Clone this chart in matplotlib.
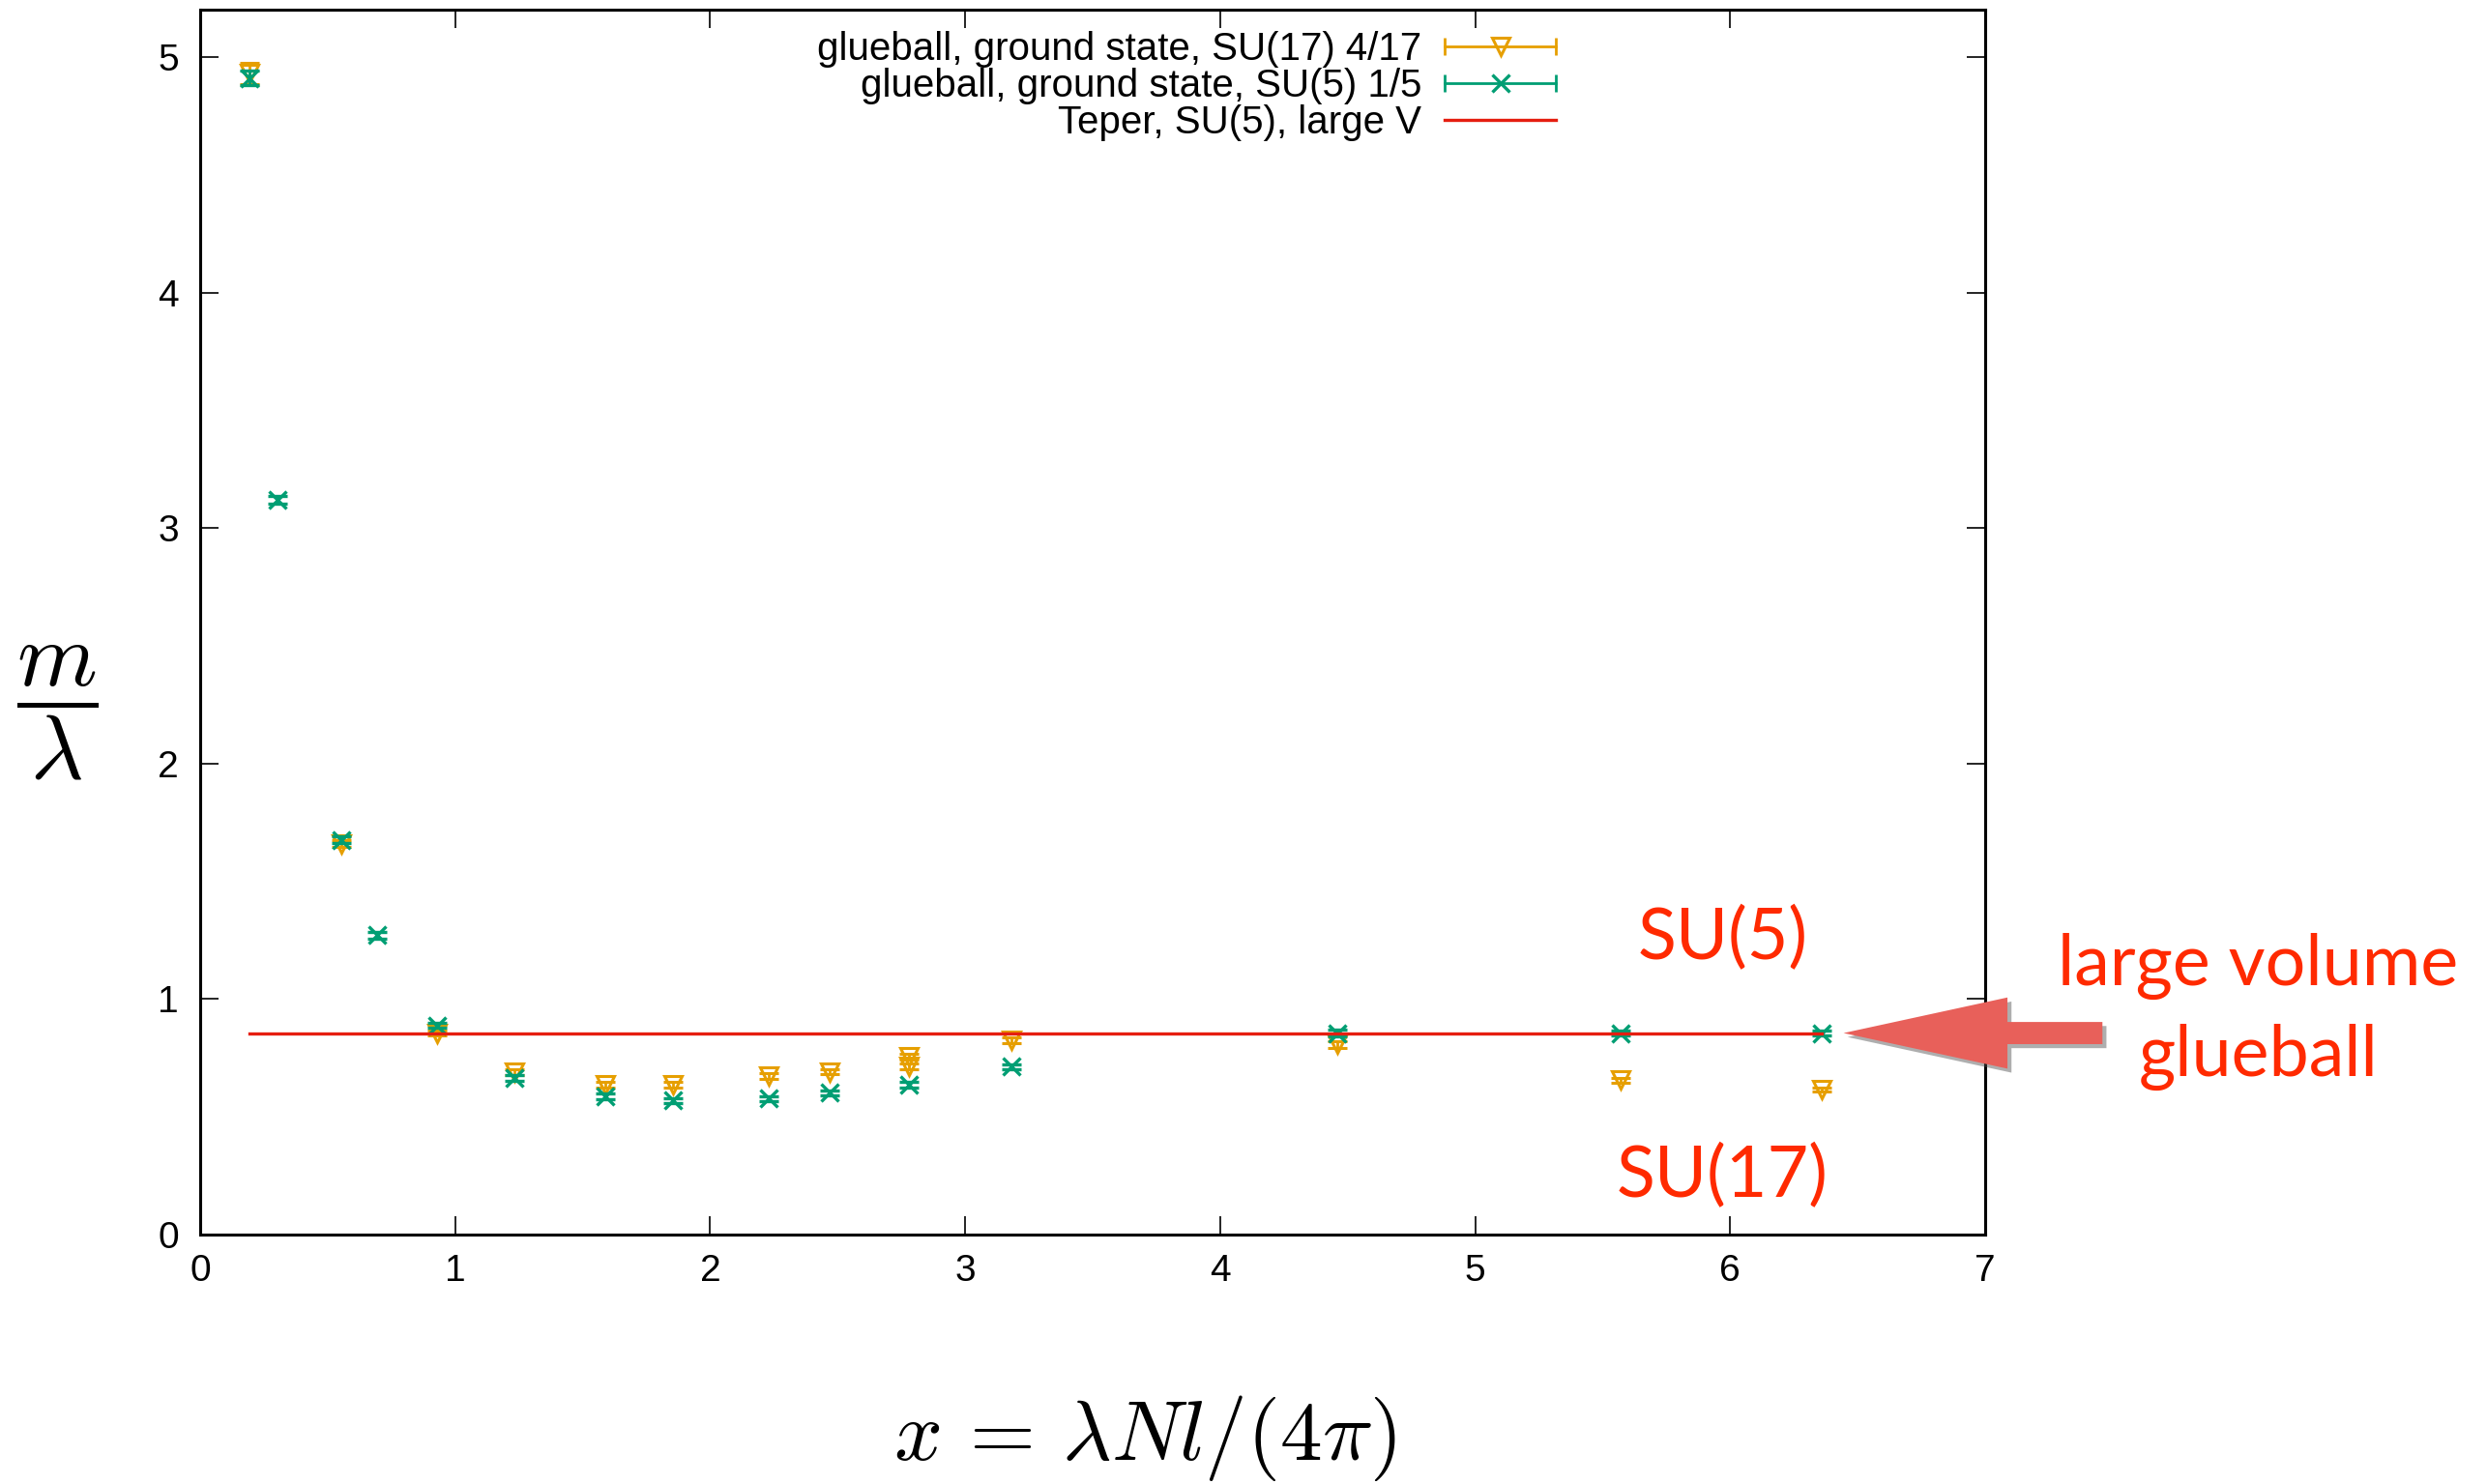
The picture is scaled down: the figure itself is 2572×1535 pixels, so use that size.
import matplotlib
matplotlib.use("Agg")
import matplotlib.pyplot as plt
import matplotlib.patheffects as pe
from matplotlib.lines import Line2D
from matplotlib.legend_handler import HandlerLine2D

plt.rcParams['font.family'] = ['Liberation Sans', 'DejaVu Sans']
plt.rcParams['mathtext.fontset'] = 'cm'

# SU(17), flux 4/17
x_su17 = [0.194, 0.553, 0.928, 1.233, 1.59, 1.856, 2.23, 2.47, 2.78, 2.78, 3.18, 4.46, 5.57, 6.36]
m_su17 = [4.93, 1.66, 0.856, 0.69, 0.635, 0.635, 0.672, 0.692, 0.754, 0.713, 0.824, 0.807, 0.656, 0.616]
err_su17 = [0.045, 0.015, 0.012, 0.012, 0.012, 0.012, 0.012, 0.012, 0.012, 0.012, 0.012, 0.015, 0.01, 0.01]

# SU(5), flux 1/5
x_su5 = [0.194, 0.304, 0.553, 0.695, 0.928, 1.233, 1.59, 1.856, 2.23, 2.47, 2.78, 3.18, 4.46, 5.57, 6.36]
m_su5 = [4.91, 3.12, 1.676, 1.272, 0.889, 0.664, 0.586, 0.569, 0.578, 0.602, 0.636, 0.713, 0.856, 0.856, 0.856]
err_su5 = [0.03, 0.015, 0.015, 0.015, 0.012, 0.012, 0.012, 0.012, 0.01, 0.012, 0.012, 0.01, 0.015, 0.012, 0.012]

# large-volume SU(5) glueball (Teper)
teper_su5 = 0.856

labels = ['glueball, ground state, SU(17) 4/17',
          'glueball, ground state, SU(5) 1/5',
          'Teper, SU(5), large V']

orange = '#E69F00'
green = '#009E73'
red = '#E51E10'
note_red = '#FF2A00'

fig = plt.figure(figsize=(25.72, 15.35), dpi=100)
ax = fig.add_axes([0.0805, 0.168, 0.7177, 0.8254])

ax.errorbar(x_su17, m_su17, yerr=err_su17, fmt='v', color=orange, mfc='none',
            ms=13, mew=2.2, capsize=7, capthick=2, elinewidth=2, zorder=3)
ax.errorbar(x_su5, m_su5, yerr=err_su5, fmt='x', color=green,
            ms=13, mew=2.4, capsize=7, capthick=2, elinewidth=2, zorder=4)
teper_line, = ax.plot([x_su5[0], x_su5[-1]], [teper_su5, teper_su5],
                      color=red, lw=2.4, zorder=5)

ax.set_xlim(0, 7)
ax.set_ylim(0, 5.2)
ax.set_xticks(range(0, 8))
ax.set_yticks(range(0, 6))
ax.tick_params(direction='in', length=14, width=1.2, top=True, right=True,
               labelsize=28)
ax.tick_params(axis='x', pad=14)
ax.tick_params(axis='y', pad=16)
for sp in ax.spines.values():
    sp.set_linewidth(2.2)

# gnuplot-like legend samples: bar with end caps and point in the middle
caps17 = Line2D([], [], color=orange, lw=2, marker='|', ms=13, mew=2)
mark17 = Line2D([], [], ls='none', color=orange, marker='v', mfc='none', ms=13, mew=2.2)
caps5 = Line2D([], [], color=green, lw=2, marker='|', ms=13, mew=2)
mark5 = Line2D([], [], ls='none', color=green, marker='x', ms=13, mew=2.4)
hmap = {caps17: HandlerLine2D(numpoints=2, marker_pad=0),
        caps5: HandlerLine2D(numpoints=2, marker_pad=0),
        mark17: HandlerLine2D(numpoints=1),
        mark5: HandlerLine2D(numpoints=1)}
ax.legend([(caps17, mark17), (caps5, mark5), teper_line], labels,
          handler_map=hmap, markerfirst=False, frameon=False,
          loc='upper right', bbox_to_anchor=(0.7596, 0.983),
          borderaxespad=0, borderpad=0, fontsize=29,
          handlelength=2.85, handletextpad=0.6, labelspacing=0.0)

# axis labels
fig.text(0.0233, 0.52, r'$\dfrac{m}{\lambda}$', fontsize=68,
         ha='center', va='center')
fig.text(0.4605, 0.0163, r'$x\,=\,\lambda N l/(4\pi)$', fontsize=63,
         ha='center', va='baseline')

# notes on the right
note = dict(color=note_red, family=['Lato', 'DejaVu Sans'], fontsize=53,
            ha='center', va='baseline', clip_on=False)
ax.text(5.97, 1.168, 'SU(5)', **note)
ax.text(5.97, 0.16, 'SU(17)', **note)
ax.text(8.07, 1.061, 'large volume', **note)
ax.text(8.07, 0.676, 'glueball', **note)

ax.annotate('', xy=(6.445, teper_su5), xytext=(7.46, teper_su5),
            annotation_clip=False,
            arrowprops=dict(arrowstyle='simple,head_length=12.2,head_width=5.3,tail_width=1.65',
                            mutation_scale=10, fc='#E8605A', ec='none',
                            shrinkA=0, shrinkB=0,
                            path_effects=[pe.SimplePatchShadow(offset=(3, -3), shadow_rgbFace='0.3', alpha=0.45),
                                          pe.Normal()]))

fig.savefig('out.png', dpi=100)
